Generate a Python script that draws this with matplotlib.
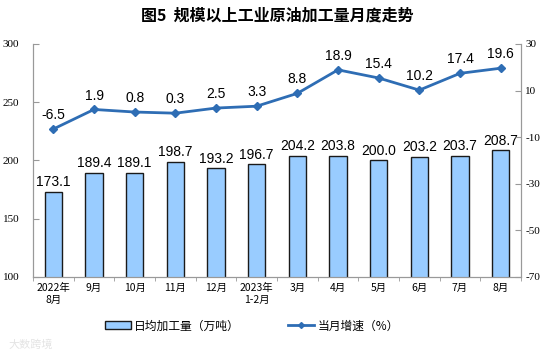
import matplotlib
matplotlib.use("Agg")
import matplotlib.pyplot as plt
from matplotlib.lines import Line2D
from matplotlib.patches import Patch
import numpy as np

plt.rcParams['font.family'] = ['Noto Sans CJK SC', 'DejaVu Sans']

# data
months = ["2022年\n8月", "9月", "10月", "11月", "12月", "2023年\n1-2月",
          "3月", "4月", "5月", "6月", "7月", "8月"]
daily_output = [173.1, 189.4, 189.1, 198.7, 193.2, 196.7,
                204.2, 203.8, 200.0, 203.2, 203.7, 208.7]
growth = [-6.5, 1.9, 0.8, 0.3, 2.5, 3.3, 8.8, 18.9, 15.4, 10.2, 17.4, 19.6]

left_ticks = [100, 150, 200, 250, 300]
right_ticks = [-70, -50, -30, -10, 10, 30]

bar_color = "#99CCFF"
line_color = "#2E6DB4"
axis_font = ['Liberation Serif', 'DejaVu Serif']
label_font = ['Liberation Sans', 'DejaVu Sans']

fig = plt.figure(figsize=(5.54, 3.57), dpi=100)
ax = fig.add_axes([0.0596, 0.2241, 0.8808, 0.6527])
ax2 = ax.twinx()

x = np.arange(len(months))
ax.bar(x, daily_output, width=0.42, color=bar_color, edgecolor="#1a1a1a",
       linewidth=1.0, zorder=2)
for xi, v in zip(x, daily_output):
    ax.annotate(f"{v:.1f}", (xi, v), xytext=(0, 2), textcoords="offset points",
                ha="center", va="bottom", fontsize=10, family=label_font)

ax2.plot(x, growth, color=line_color, linewidth=2.0, marker="D",
         markersize=4, zorder=3)
for xi, v in zip(x, growth):
    ax2.annotate(f"{v:.1f}", (xi, v), xytext=(0, 5), textcoords="offset points",
                 ha="center", va="bottom", fontsize=10, family=label_font)

ax.set_xlim(-0.5, len(months) - 0.5)
ax.set_ylim(100, 300)
ax2.set_ylim(-70, 30)
ax.set_yticks(left_ticks)
ax2.set_yticks(right_ticks)
ax.set_yticklabels([str(t) for t in left_ticks], family=axis_font, fontsize=8)
ax2.set_yticklabels([str(t) for t in right_ticks], family=axis_font, fontsize=8)

ax.set_xticks(x)
ax.set_xticklabels(months, fontsize=7.5, linespacing=1.3)
ax.set_xticks(np.arange(-0.5, len(months), 1), minor=True)
ax.tick_params(axis="x", which="major", length=0, pad=4)
ax.tick_params(axis="x", which="minor", length=3, color="#999999")
ax.tick_params(axis="y", direction="in", length=4, color="#999999", pad=10)
ax2.tick_params(axis="y", direction="in", length=4, color="#999999", pad=3)

for a in (ax, ax2):
    a.spines["top"].set_visible(False)
    for side in ("left", "right", "bottom"):
        a.spines[side].set_color("#999999")
        a.spines[side].set_linewidth(0.8)

fig.text(0.5, 0.955, "图5  规模以上工业原油加工量月度走势", ha="center", va="center",
         fontsize=11.5, fontweight="bold")

handles = [Patch(facecolor=bar_color, edgecolor="#1a1a1a", linewidth=1.0),
           Line2D([0], [0], color=line_color, linewidth=2.0, marker="D", markersize=3)]
fig.legend(handles, ["日均加工量（万吨）", "当月增速（%）"], loc="center",
           bbox_to_anchor=(0.455, 0.087), ncol=2, frameon=False, fontsize=8.5,
           columnspacing=4.1, handlelength=2.2, handletextpad=0.3)

fig.text(0.015, 0.035, "大数跨境", fontsize=8, color="#e4e4e4", ha="left", va="center")

fig.savefig("out.png", dpi=100)
